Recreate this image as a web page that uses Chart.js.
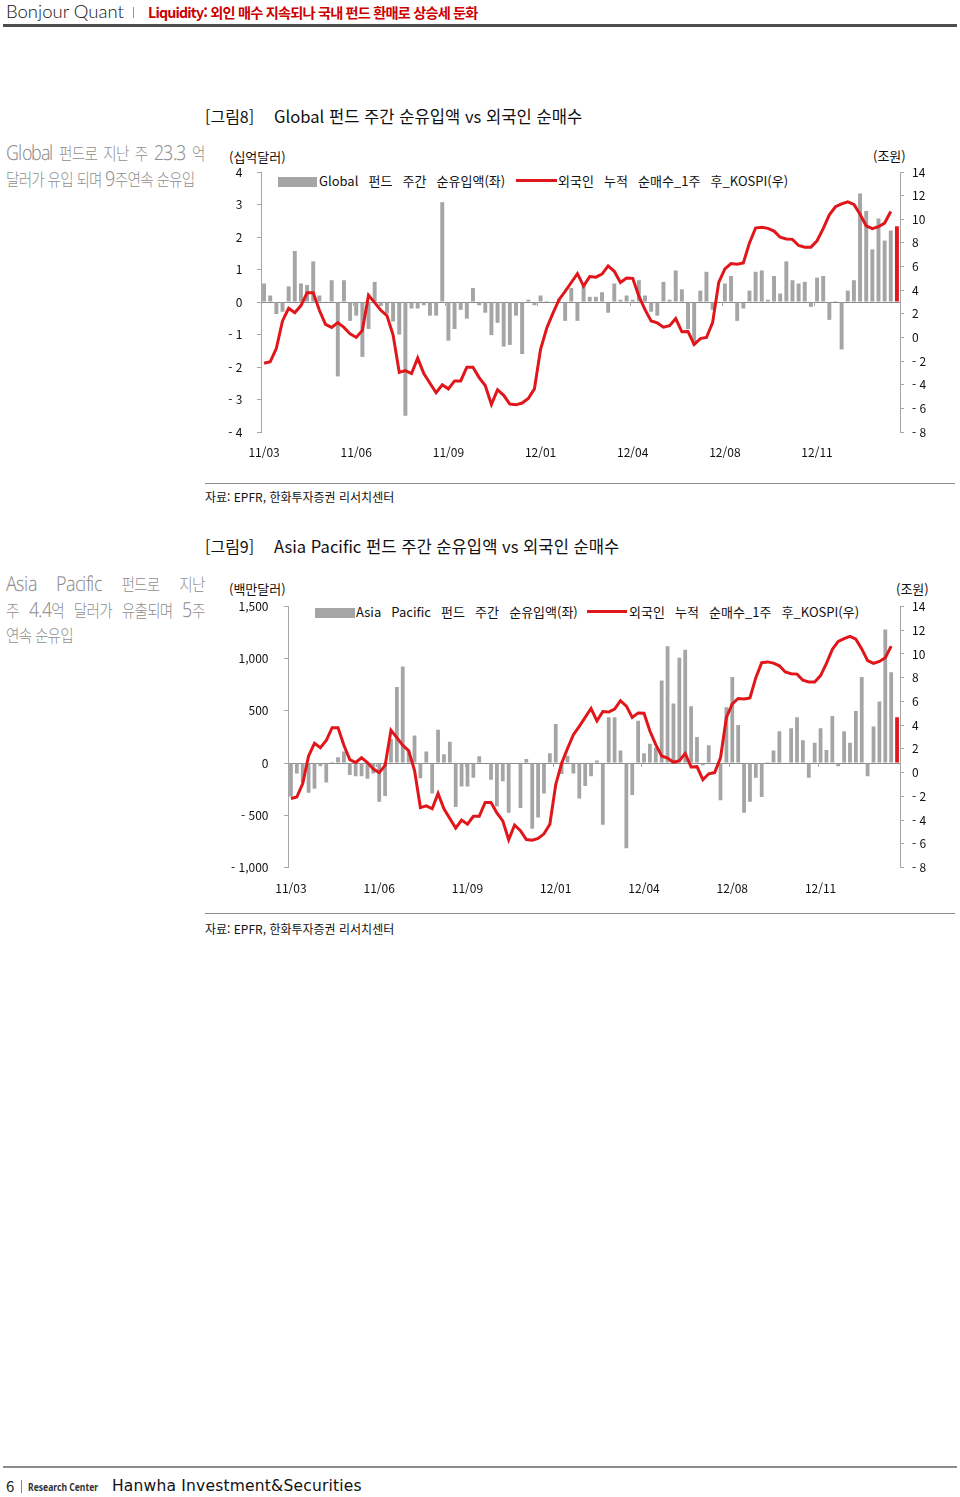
<!DOCTYPE html>
<html lang="ko">
<head>
<meta charset="utf-8">
<title>Bonjour Quant - Liquidity</title>
<script src="https://cdn.jsdelivr.net/npm/chart.js@4.4.1/dist/chart.umd.min.js"></script>
<style>
  @font-face {
    font-family: 'SideLatin';
    src: local('Noto Sans Light'), local('NotoSans-Light'), local('Noto Sans Regular'), local('NotoSans-Regular'), local('Noto Sans');
    size-adjust: 122%;
    unicode-range: U+0020-007E;
  }
  body { margin: 0; background: #fff; }
  #page { position: relative; width: 960px; height: 1497px; overflow: hidden; background: #fff;
          font-family: "Noto Sans CJK KR", "Noto Sans", sans-serif; color: #111; }
  .t { position: absolute; white-space: nowrap; line-height: 20px; }
  .rule { position: absolute; }
  .side { position: absolute; width: 231px; color: #8f8f8f; font-size: 17px; font-weight: 300;
          font-family: 'SideLatin', "Noto Sans CJK KR", sans-serif;
          letter-spacing: -0.9px; line-height: 20px; transform: scaleX(0.86); transform-origin: 0 0; }
  .side .j { text-align: justify; text-align-last: justify; }
  .legend { font-size: 13px; word-spacing: 6.5px; }
  .unit { font-size: 13px; }
  .fig { font-size: 16px; }
  .src { font-size: 12px; }
  .chartbox { position: absolute; width: 740px; height: 330px; }
</style>
</head>
<body>
<div id="page">
  <!-- header -->
  <div class="t" style="left:6px; top:1px; font-family:Lato,'Noto Sans',sans-serif; font-weight:300; font-size:18.5px; color:#111;">Bonjour Quant</div>
  <div class="rule" style="left:133px; top:7px; width:1px; height:11px; background:#999;"></div>
  <div class="t" style="left:148px; top:2px; font-size:14.2px; font-weight:700; letter-spacing:-0.8px; color:#cc0000;">Liquidity: 외인 매수 지속되나 국내 펀드 환매로 상승세 둔화</div>
  <div class="rule" style="left:3px; top:24px; width:954px; height:3px; background:#4d4d4d;"></div>

  <!-- 그림8 -->
  <div class="t fig" style="left:205px; top:106px;">[그림8]</div>
  <div class="t fig" style="left:274px; top:106px; font-size:16.6px;">Global 펀드 주간 순유입액 vs 외국인 순매수</div>

  <div class="side" style="left:6px; top:142px;">
    <div class="j">Global 펀드로 지난 주 23.3 억</div>
    <div style="margin-top:6px;">달러가 유입 되며 9주연속 순유입</div>
  </div>

  <div class="t unit" style="left:229px; top:147px;">(십억달러)</div>
  <div class="t unit" style="left:873px; top:146px;">(조원)</div>
  <div class="rule" style="left:278px; top:177px; width:39px; height:10px; background:#a5a5a5;"></div>
  <div class="t legend" style="left:319px; top:171px;">Global 펀드 주간 순유입액(좌)</div>
  <div class="rule" style="left:516px; top:179px; width:41px; height:3px; background:#e0161b;"></div>
  <div class="t legend" style="left:558px; top:171px;">외국인 누적 순매수_1주 후_KOSPI(우)</div>

  <div class="chartbox" style="left:200px; top:140px;"><canvas id="globalChart" width="740" height="330"></canvas></div>

  <div class="rule" style="left:205px; top:483px; width:750px; height:1px; background:#8c8c8c;"></div>
  <div class="t src" style="left:205px; top:487px;">자료: EPFR, 한화투자증권 리서치센터</div>

  <!-- 그림9 -->
  <div class="t fig" style="left:205px; top:536px;">[그림9]</div>
  <div class="t fig" style="left:274px; top:536px; font-size:16.6px;">Asia Pacific 펀드 주간 순유입액 vs 외국인 순매수</div>

  <div class="side" style="left:6px; top:573px;">
    <div class="j">Asia Pacific 펀드로 지난</div>
    <div class="j" style="margin-top:6px;">주 4.4억 달러가 유출되며 5주</div>
    <div style="margin-top:5px;">연속 순유입</div>
  </div>

  <div class="t unit" style="left:229px; top:579px;">(백만달러)</div>
  <div class="t unit" style="left:896px; top:579px;">(조원)</div>
  <div class="rule" style="left:315px; top:608px; width:40px; height:10px; background:#a5a5a5;"></div>
  <div class="t legend" style="left:356px; top:602px;">Asia Pacific 펀드 주간 순유입액(좌)</div>
  <div class="rule" style="left:587px; top:610px; width:40px; height:3px; background:#e0161b;"></div>
  <div class="t legend" style="left:629px; top:602px;">외국인 누적 순매수_1주 후_KOSPI(우)</div>

  <div class="chartbox" style="left:200px; top:570px;"><canvas id="apChart" width="740" height="330"></canvas></div>

  <div class="rule" style="left:205px; top:913px; width:750px; height:1px; background:#8c8c8c;"></div>
  <div class="t src" style="left:205px; top:919px;">자료: EPFR, 한화투자증권 리서치센터</div>

  <!-- footer -->
  <div class="rule" style="left:3px; top:1466px; width:954px; height:2px; background:#8c8c8c;"></div>
  <div class="t" style="left:6px; top:1476px; font-size:15px; color:#222;">6</div>
  <div class="rule" style="left:21px; top:1480px; width:1px; height:13px; background:#888;"></div>
  <div class="t" style="left:28px; top:1477px; font-family:'Noto Sans',sans-serif; font-weight:700; font-size:11px; color:#333; transform:scaleX(0.78); transform-origin:0 0;">Research Center</div>
  <div class="t" style="left:112px; top:1476px; font-family:'DejaVu Sans',sans-serif; font-size:15.5px; letter-spacing:0.2px; color:#111;">Hanwha Investment&amp;Securities</div>
</div>

<script>
// 주간 데이터 (11/03 ~ 13/02), 104주
const tickLabels = ['11/03', '11/06', '11/09', '12/01', '12/04', '12/08', '12/11'];
const weeksPerTick = 15;

// Global 펀드 주간 순유입액 (십억달러)
const globalFlow = [
	0.57, 0.2, -0.37, -0.3, 0.48, 1.57, 0.57, 0.52, 1.25, 0.2, 0.02, 0.67, -2.29,
	0.67, -0.58, -0.42, -1.69, -0.83, 0.62, -0.12, -0.35, -0.6, -1.0, -3.5, -0.2,
	-0.2, -0.1, -0.42, -0.42, 3.07, -1.19, -0.83, -0.24, -0.51, 0.43, -0.1, -0.33,
	-1.02, -0.64, -1.37, -1.32, -0.42, -1.6, 0.07, -0.1, 0.2, 0.03, 0.0, 0.1,
	-0.58, 0.43, -0.58, 0.5, 0.16, 0.16, 0.3, -0.33, 0.57, 0.07, 0.2, 0.07,
	0.67, 0.2, -0.3, -0.42, 0.62, 0.07, 0.97, 0.39, -0.83, -1.32, 0.35, 0.93,
	-0.24, 0.02, 0.57, 0.8, -0.58, -0.2, 0.35, 0.93, 0.97, 0.07, 0.8, 0.26,
	1.25, 0.67, 0.57, 0.62, -0.15, 0.75, 0.8, -0.55, 0.03, -1.46, 0.35, 0.67,
	3.34, 2.8, 1.62, 2.57, 1.89, 2.2, 2.33
];

// Asia Pacific 펀드 주간 순유입액 (백만달러)
const asiaPacificFlow = [
	-320, -100, -180, -285, -245, -30, -185, 10, 55, 110, -115, -125, -125,
	-150, -100, -370, -315, 230, 730, 925, 120, 265, -145, 110, -290, 320,
	85, 205, -420, -225, -225, -140, 65, 0, -160, -415, -175, -475, 0,
	-430, 40, -630, -520, -290, 95, 375, -105, 70, -100, -340, -220, -125,
	25, -590, 440, 440, 120, -815, -305, 405, 95, 185, 150, 790, 1120,
	570, 1010, 1085, 545, 250, -20, 170, 0, -355, 535, 825, 365, -475,
	-370, -140, -325, 10, 120, 305, 0, 335, 440, 220, -140, 195, 335,
	125, 450, -30, 305, 195, 500, 825, -125, 350, 590, 1280, 870, 440
];

// 외국인 누적 순매수_1주 후_KOSPI (조원), 마지막 주는 아직 없음
const foreignNetBuy = [
	-2.18, -2.06, -0.92, 1.4, 2.47, 2.1, 2.7, 3.78, 3.78, 2.3, 1.1, 0.85, 1.25,
	0.85, 0.3, 0.0, 0.6, 3.57, 2.95, 2.3, 1.85, 0.2, -2.95, -2.8, -3.05, -1.75,
	-3.05, -3.87, -4.68, -4.0, -4.35, -3.68, -3.68, -2.52, -2.52, -3.4, -4.07,
	-5.66, -4.42, -4.9, -5.64, -5.7, -5.55, -5.16, -4.35, -1.0, 0.78, 2.03, 3.2,
	3.9, 4.65, 5.4, 4.35, 5.15, 5.1, 5.36, 6.06, 5.6, 4.65, 5.03, 5.0,
	3.5, 2.35, 1.4, 1.23, 0.87, 1.0, 1.6, 0.48, 0.5, -0.6, -0.1, 0.0,
	1.25, 4.65, 5.8, 6.25, 6.2, 6.3, 8.0, 9.26, 9.33, 9.23, 9.0, 8.48,
	8.34, 8.3, 7.78, 7.64, 7.64, 8.18, 9.2, 10.38, 11.06, 11.3, 11.48, 11.25,
	10.43, 9.44, 9.2, 9.37, 9.68, 10.66, null
];

const categories = globalFlow.map((v, i) => i % weeksPerTick === 0 ? tickLabels[i / weeksPerTick] : '');

const GRAY = '#a5a5a5';
const RED = '#e0161b';
const AXIS = '#a6a6a6';
const tickFont = { family: '"Noto Sans CJK KR", "Noto Sans", sans-serif', size: 12 };

function fmt(v) {
	return (v < 0 ? '- ' : '') + Math.abs(v).toLocaleString('en-US');
}

// 0선 위 라벨 구간의 작은 눈금
const zeroTicks = {
	id: 'zeroTicks',
	afterDraw(chart) {
		const { ctx, scales: { x, yL } } = chart;
		const y0 = Math.round(yL.getPixelForValue(0));
		const half = (x.getPixelForValue(1) - x.getPixelForValue(0)) / 2;
		ctx.save();
		ctx.strokeStyle = AXIS;
		ctx.lineWidth = 1;
		categories.forEach((c, i) => {
			if (!c || i === 0) return;
			const px = Math.round(x.getPixelForValue(i) - half) + 0.5;
			ctx.beginPath();
			ctx.moveTo(px, y0);
			ctx.lineTo(px, y0 + 4);
			ctx.stroke();
		});
		ctx.restore();
	}
};

function buildConfig(flow, left, frame) {
	const last = flow.length - 1;
	return {
		type: 'bar',
		data: {
			labels: categories,
			datasets: [{
				type: 'line',
				label: '외국인 누적 순매수_1주 후_KOSPI(우)',
				data: foreignNetBuy,
				yAxisID: 'yR',
				borderColor: RED,
				borderWidth: 3,
				pointRadius: 0,
				tension: 0,
				order: 0
			}, {
				type: 'bar',
				label: left.label,
				data: flow,
				yAxisID: 'yL',
				backgroundColor: flow.map((v, i) => i === last ? RED : GRAY),
				barPercentage: 0.64,
				categoryPercentage: 1,
				order: 1
			}]
		},
		options: {
			responsive: false,
			animation: false,
			devicePixelRatio: 1,
			layout: { padding: { top: frame.top, left: 0, right: 0, bottom: 0 } },
			plugins: { legend: { display: false }, tooltip: { enabled: false } },
			scales: {
				x: {
					grid: { display: false, drawTicks: false },
					border: { display: false },
					ticks: { autoSkip: false, maxRotation: 0, padding: frame.xPad, color: '#111', font: tickFont },
					afterFit: s => { s.height = frame.xHeight; }
				},
				yL: {
					position: 'left',
					min: left.min,
					max: left.max,
					ticks: { stepSize: left.step, padding: frame.leftPad, color: '#111', font: tickFont, callback: fmt },
					grid: {
						color: c => (c.tick && c.tick.value === 0) ? '#8a8a8a' : 'rgba(0,0,0,0)',
						tickColor: AXIS,
						tickLength: 4
					},
					border: { display: true, color: AXIS },
					afterFit: s => { s.width = frame.leftWidth; }
				},
				yR: {
					position: 'right',
					min: -8,
					max: 14,
					ticks: { stepSize: 2, padding: 8, color: '#111', font: tickFont, callback: fmt },
					grid: { drawOnChartArea: false, tickColor: AXIS, tickLength: 4 },
					border: { display: true, color: AXIS },
					afterFit: s => { s.width = frame.rightWidth; }
				}
			}
		},
		plugins: [zeroTicks]
	};
}

document.addEventListener('DOMContentLoaded', () => {
	// 그림8: Global
	new Chart(document.getElementById('globalChart'), buildConfig(
		globalFlow,
		{ label: 'Global 펀드 주간 순유입액(좌)', min: -4, max: 4, step: 1 },
		{ top: 32, leftWidth: 61, rightWidth: 40, xHeight: 38, xPad: 13, leftPad: 14.5 }
	));

	// 그림9: Asia Pacific
	new Chart(document.getElementById('apChart'), buildConfig(
		asiaPacificFlow,
		{ label: 'Asia Pacific 펀드 주간 순유입액(좌)', min: -1000, max: 1500, step: 500 },
		{ top: 36.5, leftWidth: 88, rightWidth: 40, xHeight: 32.5, xPad: 13.5, leftPad: 15.5 }
	));
});
</script>
</body>
</html>
